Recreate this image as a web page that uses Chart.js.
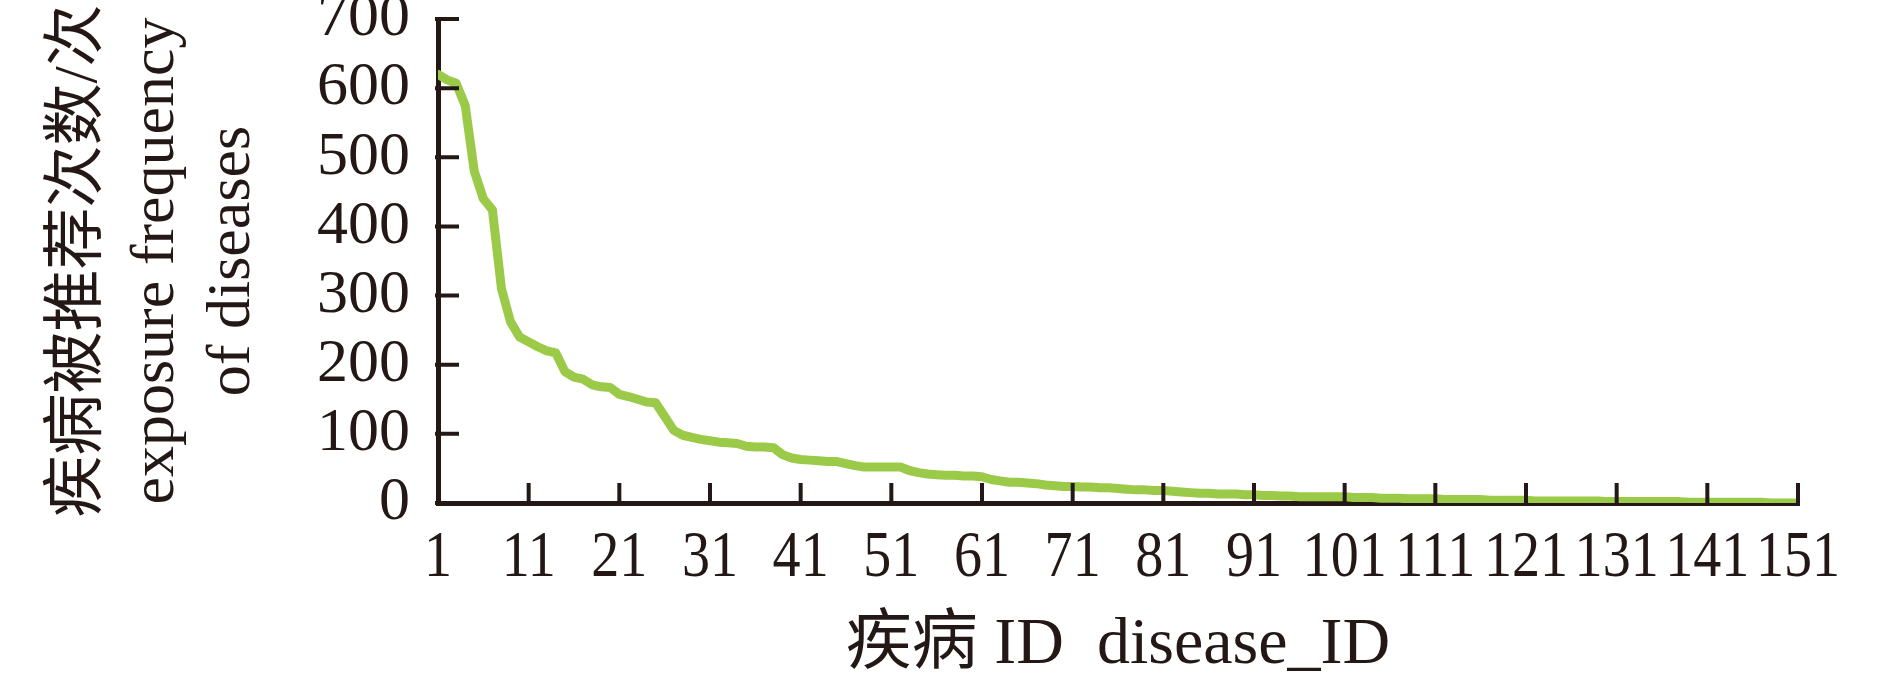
<!DOCTYPE html>
<html>
<head>
<meta charset="utf-8">
<script src="https://cdn.jsdelivr.net/npm/chart.js@4.4.1/dist/chart.umd.min.js"></script>
<style>
  html, body { margin: 0; padding: 0; background: #fff; }
  canvas { display: block; }
</style>
</head>
<body>
<canvas id="chart" width="1890" height="687"></canvas>
<script>
// disease IDs 1..151 on the x axis
const diseaseIds = Array.from({ length: 151 }, (_, i) => i + 1);

// exposure frequency per disease
const exposure = [
  620, 612, 607, 575, 480, 440, 424, 310, 262, 240,   // 1-10
  233, 226, 220, 217, 190, 182, 179, 171, 168, 167,   // 11-20
  157, 154, 150, 146, 145, 125, 105, 98, 95, 92,      // 21-30
  90, 88, 87, 86, 82, 81, 81, 80, 70, 65,             // 31-40
  63, 62, 61, 60, 60, 57, 54, 52, 52, 52,             // 41-50
  52, 52, 47, 44, 42, 41, 40, 40, 39, 39,             // 51-60
  38, 34, 32, 30, 30, 29, 28, 26, 25, 24,             // 61-70
  24, 23, 23, 22, 22, 21, 20, 19, 19, 18,             // 71-80
  18, 17, 16, 15, 14, 14, 13, 13, 13, 12,             // 81-90
  12, 11, 11, 10, 10, 9, 9, 9, 9, 9,                  // 91-100
  9, 8, 8, 8, 7, 7, 7, 6, 6, 6,                       // 101-110
  6, 5, 5, 5, 5, 5, 4, 4, 4, 4,                       // 111-120
  4, 3, 3, 3, 3, 3, 3, 3, 3, 2,                       // 121-130
  2, 2, 2, 2, 2, 2, 2, 2, 1, 1,                       // 131-140
  1, 1, 1, 1, 1, 1, 1, 0, 0, 0,                       // 141-150
  0                                                   // 151
];

const xTicks = [1, 11, 21, 31, 41, 51, 61, 71, 81, 91, 101, 111, 121, 131, 141, 151];
const yTicks = [0, 100, 200, 300, 400, 500, 600, 700];

const xTitle = '疾病 ID  disease_ID';
const yTitle = ['疾病被推荐次数/次', 'exposure frequency', 'of diseases'];

const INK = '#231815';
const LINE = '#9bca48';
const FONT = '"Liberation Serif", "Times New Roman", "Noto Sans CJK SC", serif';

// tick marks point into the plot area; x labels are drawn a bit condensed like the original
const axisDecor = {
  id: 'axisDecor',
  afterDraw(chart) {
    const { ctx, chartArea, scales: { x, y } } = chart;
    ctx.save();
    ctx.strokeStyle = INK;
    ctx.lineWidth = 4;
    ctx.beginPath();
    y.ticks.forEach(t => {
      const py = y.getPixelForValue(t.value);
      ctx.moveTo(chartArea.left - 3, py);
      ctx.lineTo(chartArea.left + 21, py);
    });
    x.ticks.forEach(t => {
      const px = x.getPixelForValue(t.value);
      ctx.moveTo(px, chartArea.bottom + 3);
      ctx.lineTo(px, chartArea.bottom - 20);
    });
    ctx.stroke();

    ctx.fillStyle = INK;
    ctx.font = '66px ' + FONT;
    ctx.textAlign = 'center';
    ctx.textBaseline = 'alphabetic';
    x.ticks.forEach(t => {
      const px = x.getPixelForValue(t.value);
      ctx.save();
      ctx.translate(px, chartArea.bottom + 73);
      ctx.scale(0.85, 1);
      ctx.fillText(String(t.value), 0, 0);
      ctx.restore();
    });
    ctx.restore();
  }
};

new Chart(document.getElementById('chart'), {
  type: 'line',
  data: {
    datasets: [{
      data: diseaseIds.map((id, i) => ({ x: id, y: exposure[i] })),
      borderColor: LINE,
      borderWidth: 9,
      pointRadius: 0,
      tension: 0,
      borderJoinStyle: 'round',
      borderCapStyle: 'round'
    }]
  },
  options: {
    responsive: false,
    animation: false,
    layout: { padding: { top: 19, right: 92, left: 0, bottom: 0 } },
    plugins: { legend: { display: false }, tooltip: { enabled: false } },
    scales: {
      x: {
        type: 'linear',
        min: 1,
        max: 151,
        z: 1,
        grid: { display: false, drawTicks: false },
        border: { display: true, color: INK, width: 5 },
        ticks: { display: false, autoSkip: false },
        title: {
          display: true, text: xTitle, color: INK,
          font: { family: FONT, size: 66, lineHeight: 1.2 },
          padding: { top: 0, bottom: 2 }
        },
        afterBuildTicks: s => { s.ticks = xTicks.map(v => ({ value: v })); },
        afterFit: s => { s.height = 184; s.paddingLeft = 0; s.paddingRight = 0; }
      },
      y: {
        min: 0,
        max: 700,
        z: 1,
        grid: { display: false, drawTicks: false },
        border: { display: true, color: INK, width: 5 },
        ticks: { autoSkip: false, padding: 28, color: INK, font: { family: FONT, size: 62 } },
        title: {
          display: true, text: yTitle, color: INK,
          font: { family: FONT, size: 62, lineHeight: 1.24 },
          padding: { top: 41, bottom: 0 }
        },
        afterBuildTicks: s => { s.ticks = yTicks.map(v => ({ value: v })); },
        afterFit: s => { s.width = 438; s.paddingTop = 0; s.paddingBottom = 0; }
      }
    }
  },
  plugins: [axisDecor]
});
</script>
</body>
</html>
